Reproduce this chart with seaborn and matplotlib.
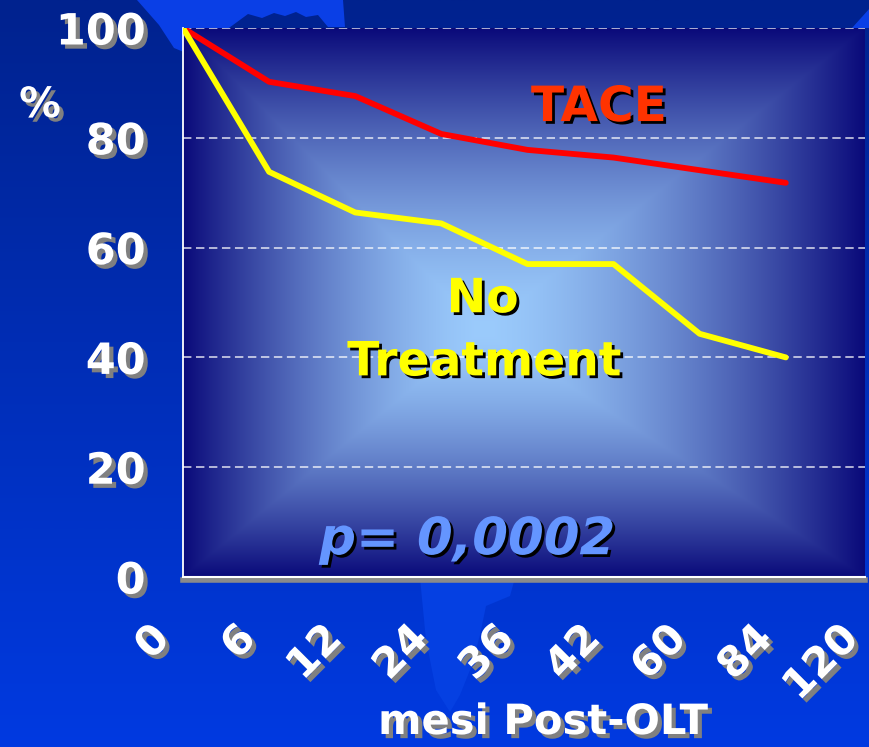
import numpy as np
import pandas as pd
import matplotlib
matplotlib.use("Agg")
import matplotlib.pyplot as plt
import matplotlib.patheffects as pe
import matplotlib.transforms as mtransforms
from matplotlib.patches import Polygon
import seaborn as sns

# ---------------- data ----------------
months = ["0", "6", "12", "24", "36", "42", "60", "84", "120"]
tace = [100, 90.2, 87.6, 80.7, 77.8, 76.4, 74.1, 71.8]
no_treatment = [100, 73.8, 66.4, 64.4, 57.0, 57.0, 44.3, 40.0]
y_ticks = [0, 20, 40, 60, 80, 100]
series_names = ["TACE", "No Treatment"]

df = pd.DataFrame({
    "pos": list(range(len(tace))) + list(range(len(no_treatment))),
    "month": months[:len(tace)] + months[:len(no_treatment)],
    "pct": tace + no_treatment,
    "group": [series_names[0]] * len(tace) + [series_names[1]] * len(no_treatment),
})

sns.set_theme(style="white")
plt.rcParams["font.family"] = ["DejaVu Sans"]

W, H = 870, 747
fig = plt.figure(figsize=(W / 100, H / 100), dpi=100)

# ---------------- slide background ----------------
bg = fig.add_axes([0, 0, 1, 1], zorder=-10)
g = np.linspace(0, 1, 256)[:, None, None]
top = np.array([0, 34, 142]) / 255
bot = np.array([0, 58, 225]) / 255
img = top * (1 - g) + bot * g
bg.imshow(img, extent=[0, W, H, 0], aspect="auto", interpolation="bilinear")
blob = "#0a3fe6"
bg.add_patch(Polygon([(137, 0), (343, 0), (345, 27), (328, 27), (318, 15), (306, 17),
                      (296, 12), (285, 16), (274, 13), (262, 18), (248, 14), (233, 25),
                      (226, 30), (213, 45), (206, 75), (191, 55), (174, 48), (159, 25)],
                     closed=True, color=blob, lw=0))
bg.add_patch(Polygon([(852, 28), (870, 8), (870, 28)], closed=True, color=blob, lw=0))
bg.add_patch(Polygon([(420, 578), (515, 578), (510, 596), (486, 606), (480, 635),
                      (472, 665), (460, 695), (450, 712), (436, 690), (426, 640)],
                     closed=True, color="#0540e2", lw=0))
bg.set_xlim(0, W)
bg.set_ylim(H, 0)
bg.axis("off")

# ---------------- main axes ----------------
ax = fig.add_axes([183 / W, 170 / H, 682 / W, 549 / H])
xmax = 7.92
ax.set_xlim(0, xmax)
ax.set_ylim(0, 100)

# rectangular path gradient of the plot area
nx, ny = 500, 400
X, Y = np.meshgrid(np.linspace(-1, 1, nx), np.linspace(-1, 1, ny))
cx, cy = -0.12, 0.10
tx = np.where(X >= cx, (X - cx) / (1 - cx), (cx - X) / (1 + cx))
ty = np.where(Y >= cy, (Y - cy) / (1 - cy), (cy - Y) / (1 + cy))
t = np.clip(np.maximum(tx, ty), 0, 1) ** 1.5
c0 = np.array([155, 203, 252]) / 255
c1 = np.array([10, 10, 122]) / 255
grad = c0 * (1 - t[..., None]) + c1 * t[..., None]
ax.imshow(grad, extent=[0, xmax, 0, 100], aspect="auto", zorder=0,
          interpolation="bilinear")

sns.lineplot(data=df, x="pos", y="pct", hue="group",
             palette={"TACE": "#ff0000", "No Treatment": "#ffff00"},
             linewidth=4.2, legend=False, ax=ax, zorder=5,
             solid_capstyle="round", solid_joinstyle="round")
ax.set_xlim(0, xmax)
ax.set_ylim(0, 100)
ax.set_xlabel("")
ax.set_ylabel("")

ax.set_axisbelow("line")
ax.yaxis.grid(True, color="white", linestyle=(0, (5.5, 3)), linewidth=1.1, alpha=0.85)
ax.xaxis.grid(False)

for s in ["top", "right"]:
    ax.spines[s].set_visible(False)
ax.spines["left"].set_color("white")
ax.spines["left"].set_linewidth(1.3)
ax.spines["bottom"].set_color("white")
ax.spines["bottom"].set_linewidth(1.5)
ax.spines["bottom"].set_path_effects([
    pe.SimpleLineShadow(offset=(0, -2.2), shadow_color="#8a8a8a", alpha=1, linewidth=4),
    pe.Normal()])

ax.set_xticks(range(len(tace)))
ax.set_xticklabels([])
ax.set_yticks(y_ticks)
ax.set_yticklabels([str(v) for v in y_ticks])
ax.tick_params(axis="y", direction="out", length=12, width=1.3, color="white",
               pad=15, labelsize=31, labelcolor="white")
ax.tick_params(axis="x", direction="out", length=11, width=1.3, color="white")

tick_shadow = [pe.SimpleLineShadow(offset=(3.5, -3.2), shadow_color="#8a8a8a", alpha=1),
               pe.Normal()]
for tk in ax.yaxis.get_major_ticks() + ax.xaxis.get_major_ticks():
    tk.tick1line.set_path_effects(tick_shadow)

txt_shadow = [pe.withSimplePatchShadow(offset=(3, -3), shadow_rgbFace="#808080", alpha=1)]
for lab in ax.get_yticklabels():
    lab.set_fontweight("bold")
    lab.set_path_effects(txt_shadow)

# rotated category labels (the last one lies past the axis end)
trans = mtransforms.blended_transform_factory(ax.transData, ax.transAxes) + \
    mtransforms.ScaledTranslation(-20 / 100, -55 / 100, fig.dpi_scale_trans)
for i, m in enumerate(months):
    ax.text(i, 0, m, transform=trans, rotation=45, rotation_mode="anchor",
            ha="right", va="center", fontsize=30, fontweight="bold", color="white",
            path_effects=txt_shadow, clip_on=False)

fig.text(543 / W, 1 - 722 / H, "mesi Post-OLT", ha="center", va="center",
         fontsize=30, fontweight="bold", color="white", path_effects=txt_shadow)
fig.text(40 / W, 1 - 105 / H, "%", ha="center", va="center",
         fontsize=30, fontweight="bold", color="white", path_effects=txt_shadow)

dark_shadow = [pe.withSimplePatchShadow(offset=(2, -2), shadow_rgbFace="black", alpha=1)]
ax.text(4.83, 85.6, "TACE", ha="center", va="center", fontsize=35,
        fontweight="bold", color="#ff3300", path_effects=dark_shadow, zorder=6)
ax.text(3.48, 50.5, "No", ha="center", va="center", fontsize=34,
        fontweight="bold", color="#ffff00", path_effects=dark_shadow, zorder=6)
ax.text(3.50, 39.0, "Treatment", ha="center", va="center", fontsize=34,
        fontweight="bold", color="#ffff00", path_effects=dark_shadow, zorder=6)
ax.text(3.30, 6.7, "p= 0,0002", ha="center", va="center", fontsize=37,
        fontweight="bold", fontstyle="italic", color="#6495ff",
        path_effects=dark_shadow, zorder=6)

fig.savefig("out.png", dpi=100)
